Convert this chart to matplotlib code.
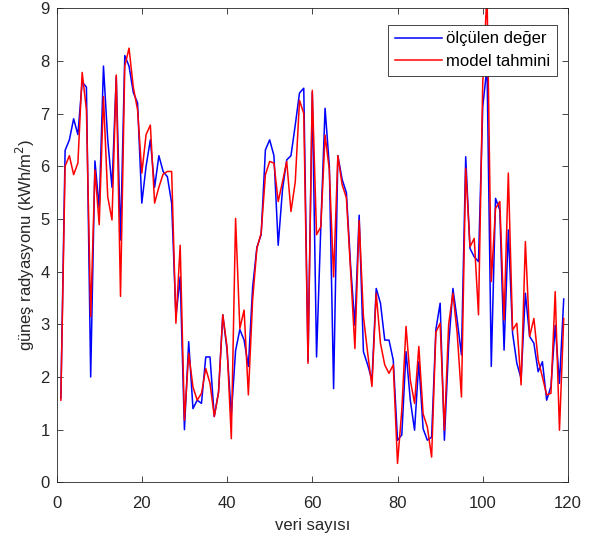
import numpy as np
import matplotlib
matplotlib.use("Agg")
import matplotlib.pyplot as plt

plt.rcParams['font.family'] = ['Liberation Sans', 'DejaVu Sans']

# measured values (ölçülen değer)
olculen = [1.6, 6.3, 6.5, 6.9, 6.6, 7.6, 7.5, 2.0, 6.1, 5.2,
           7.9, 6.5, 5.6, 7.7, 4.6, 8.1, 7.9, 7.4, 7.2, 5.3,
           6.0, 6.5, 5.6, 6.2, 5.9, 5.8, 5.3, 3.15, 3.9, 1.0,
           2.67, 1.4, 1.56, 1.5, 2.38, 2.38, 1.25, 1.72, 3.18, 2.51,
           1.28, 2.5, 2.9, 2.7, 2.2, 3.7, 4.46, 4.7, 6.31, 6.5,
           6.2, 4.5, 5.55, 6.12, 6.2, 6.78, 7.39, 7.48, 2.3, 7.4,
           2.38, 4.85, 7.1, 6.0, 1.78, 6.2, 5.75, 5.5, 4.1, 2.98,
           5.07, 2.48, 2.23, 1.94, 3.68, 3.4, 2.7, 2.7, 2.32, 0.8,
           0.9, 2.48, 1.56, 0.99, 2.29, 1.02, 0.8, 0.86, 2.9, 3.4,
           0.8, 2.6, 3.68, 3.08, 2.42, 6.18, 4.44, 4.28, 4.19, 7.13,
           7.89, 2.2, 5.39, 5.17, 2.51, 4.79, 2.83, 2.26, 1.97, 3.59,
           2.77, 2.64, 2.1, 2.29, 1.56, 1.82, 2.98, 1.88, 3.48]

# model output (model tahmini)
tahmin = [1.56, 6.0, 6.2, 5.84, 6.06, 7.78, 7.07, 3.15, 5.93, 4.89,
          7.32, 5.42, 4.98, 7.73, 3.53, 7.9, 8.24, 7.5, 7.07, 5.87,
          6.6, 6.78, 5.3, 5.6, 5.85, 5.9, 5.9, 3.02, 4.5, 1.18,
          2.45, 1.81, 1.56, 1.69, 2.16, 1.88, 1.25, 1.7, 3.18, 2.57,
          0.83, 5.01, 2.92, 3.27, 1.66, 3.46, 4.44, 4.73, 5.84, 6.09,
          6.06, 5.33, 5.7, 6.09, 5.14, 5.7, 7.25, 7.0, 2.26, 7.44,
          4.7, 4.85, 6.59, 5.93, 3.9, 6.2, 5.65, 5.4, 4.0, 2.54,
          4.97, 3.15, 2.45, 1.82, 3.59, 2.64, 2.23, 2.07, 2.23, 0.36,
          1.37, 2.96, 1.94, 1.5, 2.58, 1.3, 1.05, 0.48, 2.85, 3.02,
          0.99, 3.0, 3.59, 2.83, 1.62, 5.96, 4.47, 4.63, 3.18, 7.6,
          9.3, 3.81, 5.2, 5.33, 3.08, 5.87, 2.89, 3.02, 1.85, 4.57,
          2.77, 3.11, 2.32, 2.0, 1.66, 1.69, 3.62, 0.99, 3.11]

x = np.arange(1, len(olculen) + 1)

fig = plt.figure(figsize=(6.02, 5.42), dpi=100)
ax = fig.add_axes([0.094, 0.110, 0.8495, 0.875])

ax.plot(x, olculen, color='#0000ff', lw=1.1, label='ölçülen değer')
ax.plot(x, tahmin, color='#ff0000', lw=1.1, label='model tahmini')

ax.set_xlim(0, 120)
ax.set_ylim(0, 9)
ax.set_xticks(np.arange(0, 121, 20))
ax.set_yticks(np.arange(0, 10, 1))
ax.tick_params(direction='in', top=True, right=True, labelsize=12,
               colors='#262626', length=4, width=0.6)
ax.tick_params(axis='x', pad=10)
ax.tick_params(axis='y', pad=5)
for s in ax.spines.values():
    s.set_color('#262626')
    s.set_linewidth(0.6)

ax.set_xlabel('veri sayısı', fontsize=12, color='#262626', labelpad=5)
ax.set_ylabel('güneş radyasyonu (kWh/m$^2$)', fontsize=12, color='#262626',
              labelpad=2)

leg = ax.legend(loc='upper right', bbox_to_anchor=(0.978, 0.965), fontsize=12,
                fancybox=False, framealpha=1, edgecolor='#262626',
                handlelength=2.8, borderpad=0.4, labelspacing=0.45,
                handletextpad=0.25, borderaxespad=0)
leg.get_frame().set_linewidth(0.6)

fig.savefig('out.png', dpi=100)
